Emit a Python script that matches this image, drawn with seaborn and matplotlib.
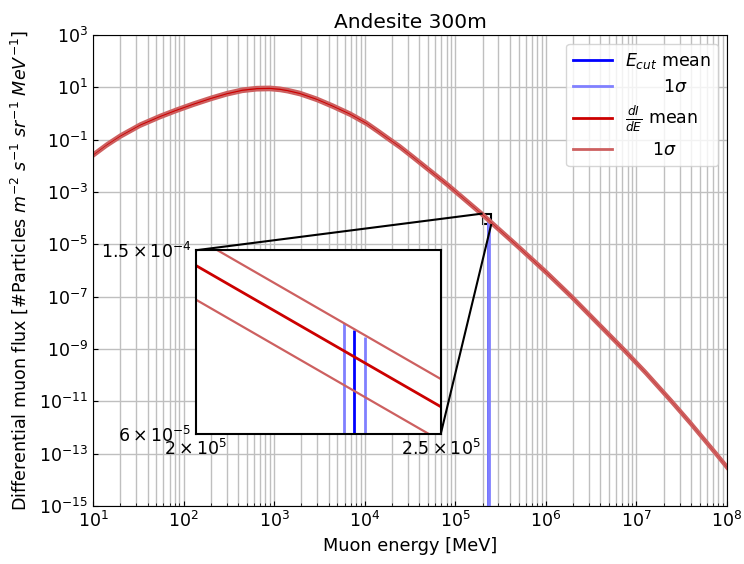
import numpy as np
import pandas as pd
import seaborn as sns
import matplotlib
matplotlib.use("Agg")
import matplotlib.pyplot as plt
from matplotlib.lines import Line2D
from matplotlib.ticker import NullLocator, NullFormatter
from mpl_toolkits.axes_grid1.inset_locator import mark_inset

# valores (log10)
log_energia = [1.0, 1.15, 1.3, 1.519, 1.74, 1.92, 2.107, 2.3, 2.476, 2.65, 2.807, 2.954,
               3.065, 3.15, 3.285, 3.47, 3.653, 3.84, 4.021, 4.15, 4.279, 4.39, 4.537,
               4.757, 4.905, 5.301, 5.398, 5.678, 6.009, 6.285, 6.855, 7.1, 7.389, 7.6,
               7.868, 8.0]
log_fluxo = [-1.585, -1.2, -0.86, -0.44, -0.11, 0.13, 0.36, 0.58, 0.76, 0.895, 0.955, 0.965,
             0.93, 0.88, 0.77, 0.55, 0.28, -0.02, -0.37, -0.68, -1.0, -1.27, -1.67,
             -2.28, -2.69, -3.857, -4.163, -5.03, -6.08, -7.0, -9.0, -9.89, -11.0, -11.84,
             -12.95, -13.51]
log_fluxo_sup = [-1.525, -1.14, -0.80, -0.38, -0.05, 0.19, 0.42, 0.64, 0.82, 0.955, 1.015, 1.025,
                 0.99, 0.94, 0.83, 0.61, 0.34, 0.04, -0.31, -0.62, -0.94, -1.21, -1.61,
                 -2.22, -2.63, -3.797, -4.103, -4.97, -6.02, -6.94, -8.94, -9.83, -10.94, -11.78,
                 -12.89, -13.45]
log_fluxo_inf = [-1.659, -1.274, -0.934, -0.514, -0.184, 0.056, 0.286, 0.506, 0.686, 0.821, 0.881, 0.891,
                 0.856, 0.806, 0.696, 0.476, 0.206, -0.094, -0.444, -0.754, -1.074, -1.344, -1.744,
                 -2.354, -2.764, -3.931, -4.237, -5.104, -6.154, -7.074, -9.074, -9.964, -11.074, -11.914,
                 -13.024, -13.584]

# corte de energia: media e 1 sigma, com o topo de cada linha
ecut_media = 2.309e5
ecut_sigma = [2.288e5, 2.333e5]
topo_media = 10 ** -3.996
topo_sigma = [10 ** -3.982, 10 ** -4.011]

dados = pd.DataFrame({
    "E": 10 ** np.array(log_energia),
    "media": 10 ** np.array(log_fluxo),
    "sup": 10 ** np.array(log_fluxo_sup),
    "inf": 10 ** np.array(log_fluxo_inf),
})

plt.rcParams["font.family"] = "DejaVu Sans"
plt.rcParams["font.size"] = 12.5

cor_azul = "#0000ff"
cor_azul_claro = "#8080ff"
cor_vermelho = "#cc0000"
cor_vermelho_claro = "#cd6060"

fig = plt.figure(figsize=(7.44, 5.64), dpi=100)
ax = fig.add_axes([93 / 744, 1 - 506 / 564, 634 / 744, 471 / 564])


def desenhar(eixo, lw_v, lw_m, lw_s):
    eixo.vlines(ecut_media, 1e-15, topo_media, color=cor_azul, lw=lw_v)
    eixo.vlines(ecut_sigma, 1e-15, topo_sigma, color=cor_azul_claro, lw=lw_v)
    sns.lineplot(data=dados, x="E", y="media", color=cor_vermelho, lw=lw_m, ax=eixo)
    sns.lineplot(data=dados, x="E", y="sup", color=cor_vermelho_claro, lw=lw_s, ax=eixo)
    sns.lineplot(data=dados, x="E", y="inf", color=cor_vermelho_claro, lw=lw_s, ax=eixo)


ax.set_xscale("log")
ax.set_yscale("log")
desenhar(ax, 2.0, 2.0, 1.6)
ax.set_xlim(1e1, 1e8)
ax.set_ylim(1e-15, 1e3)
ax.set_yticks(10.0 ** np.arange(-15, 4, 2))
ax.yaxis.set_minor_locator(NullLocator())
ax.grid(True, which="both", color="0.75", lw=1)
ax.tick_params(which="both", direction="in", labelsize=12.5)
ax.set_xlabel("Muon energy [MeV]", fontsize=12.8)
ax.set_ylabel(r"Differential muon flux [#Particles $m^{-2}$ $s^{-1}$ $sr^{-1}$ $MeV^{-1}$]",
              fontsize=12.6)
ax.yaxis.set_label_coords(-0.1, 0.5)
ax.set_title("Andesite 300m", fontsize=14.5, pad=5)

handles = [Line2D([], [], color=cor_azul, lw=2),
           Line2D([], [], color=cor_azul_claro, lw=2),
           Line2D([], [], color=cor_vermelho, lw=2),
           Line2D([], [], color=cor_vermelho_claro, lw=2)]
labels = [r"$E_{cut}$ mean", r"       $1\sigma$",
          r"$\frac{dI}{dE}$ mean", r"     $1\sigma$"]
ax.legend(handles, labels, loc="upper right", handlelength=2.2, fontsize=12.5,
          labelspacing=0.45)

# zoom
axins = ax.inset_axes([0.1625, 0.153, 0.386, 0.39])
axins.set_xscale("log")
axins.set_yscale("log")
desenhar(axins, 2.0, 2.0, 1.6)
axins.set_xlim(2e5, 2.5e5)
axins.set_ylim(6e-5, 1.5e-4)
axins.xaxis.set_minor_locator(NullLocator())
axins.yaxis.set_minor_locator(NullLocator())
axins.xaxis.set_minor_formatter(NullFormatter())
axins.yaxis.set_minor_formatter(NullFormatter())
axins.set_xticks([2e5, 2.5e5], labels=[r"$2\times10^{5}$", r"$2.5\times10^{5}$"])
axins.set_yticks([6e-5, 1.5e-4], labels=[r"$6\times10^{-5}$", r"$1.5\times10^{-4}$"])
axins.tick_params(which="both", length=0, labelsize=12.5)
axins.set_xlabel("")
axins.set_ylabel("")
axins.set_facecolor("white")
for s in axins.spines.values():
    s.set_linewidth(1.5)
mark_inset(ax, axins, loc1=2, loc2=4, fc="none", ec="k", lw=1.5)

fig.savefig("out.png", dpi=100)
